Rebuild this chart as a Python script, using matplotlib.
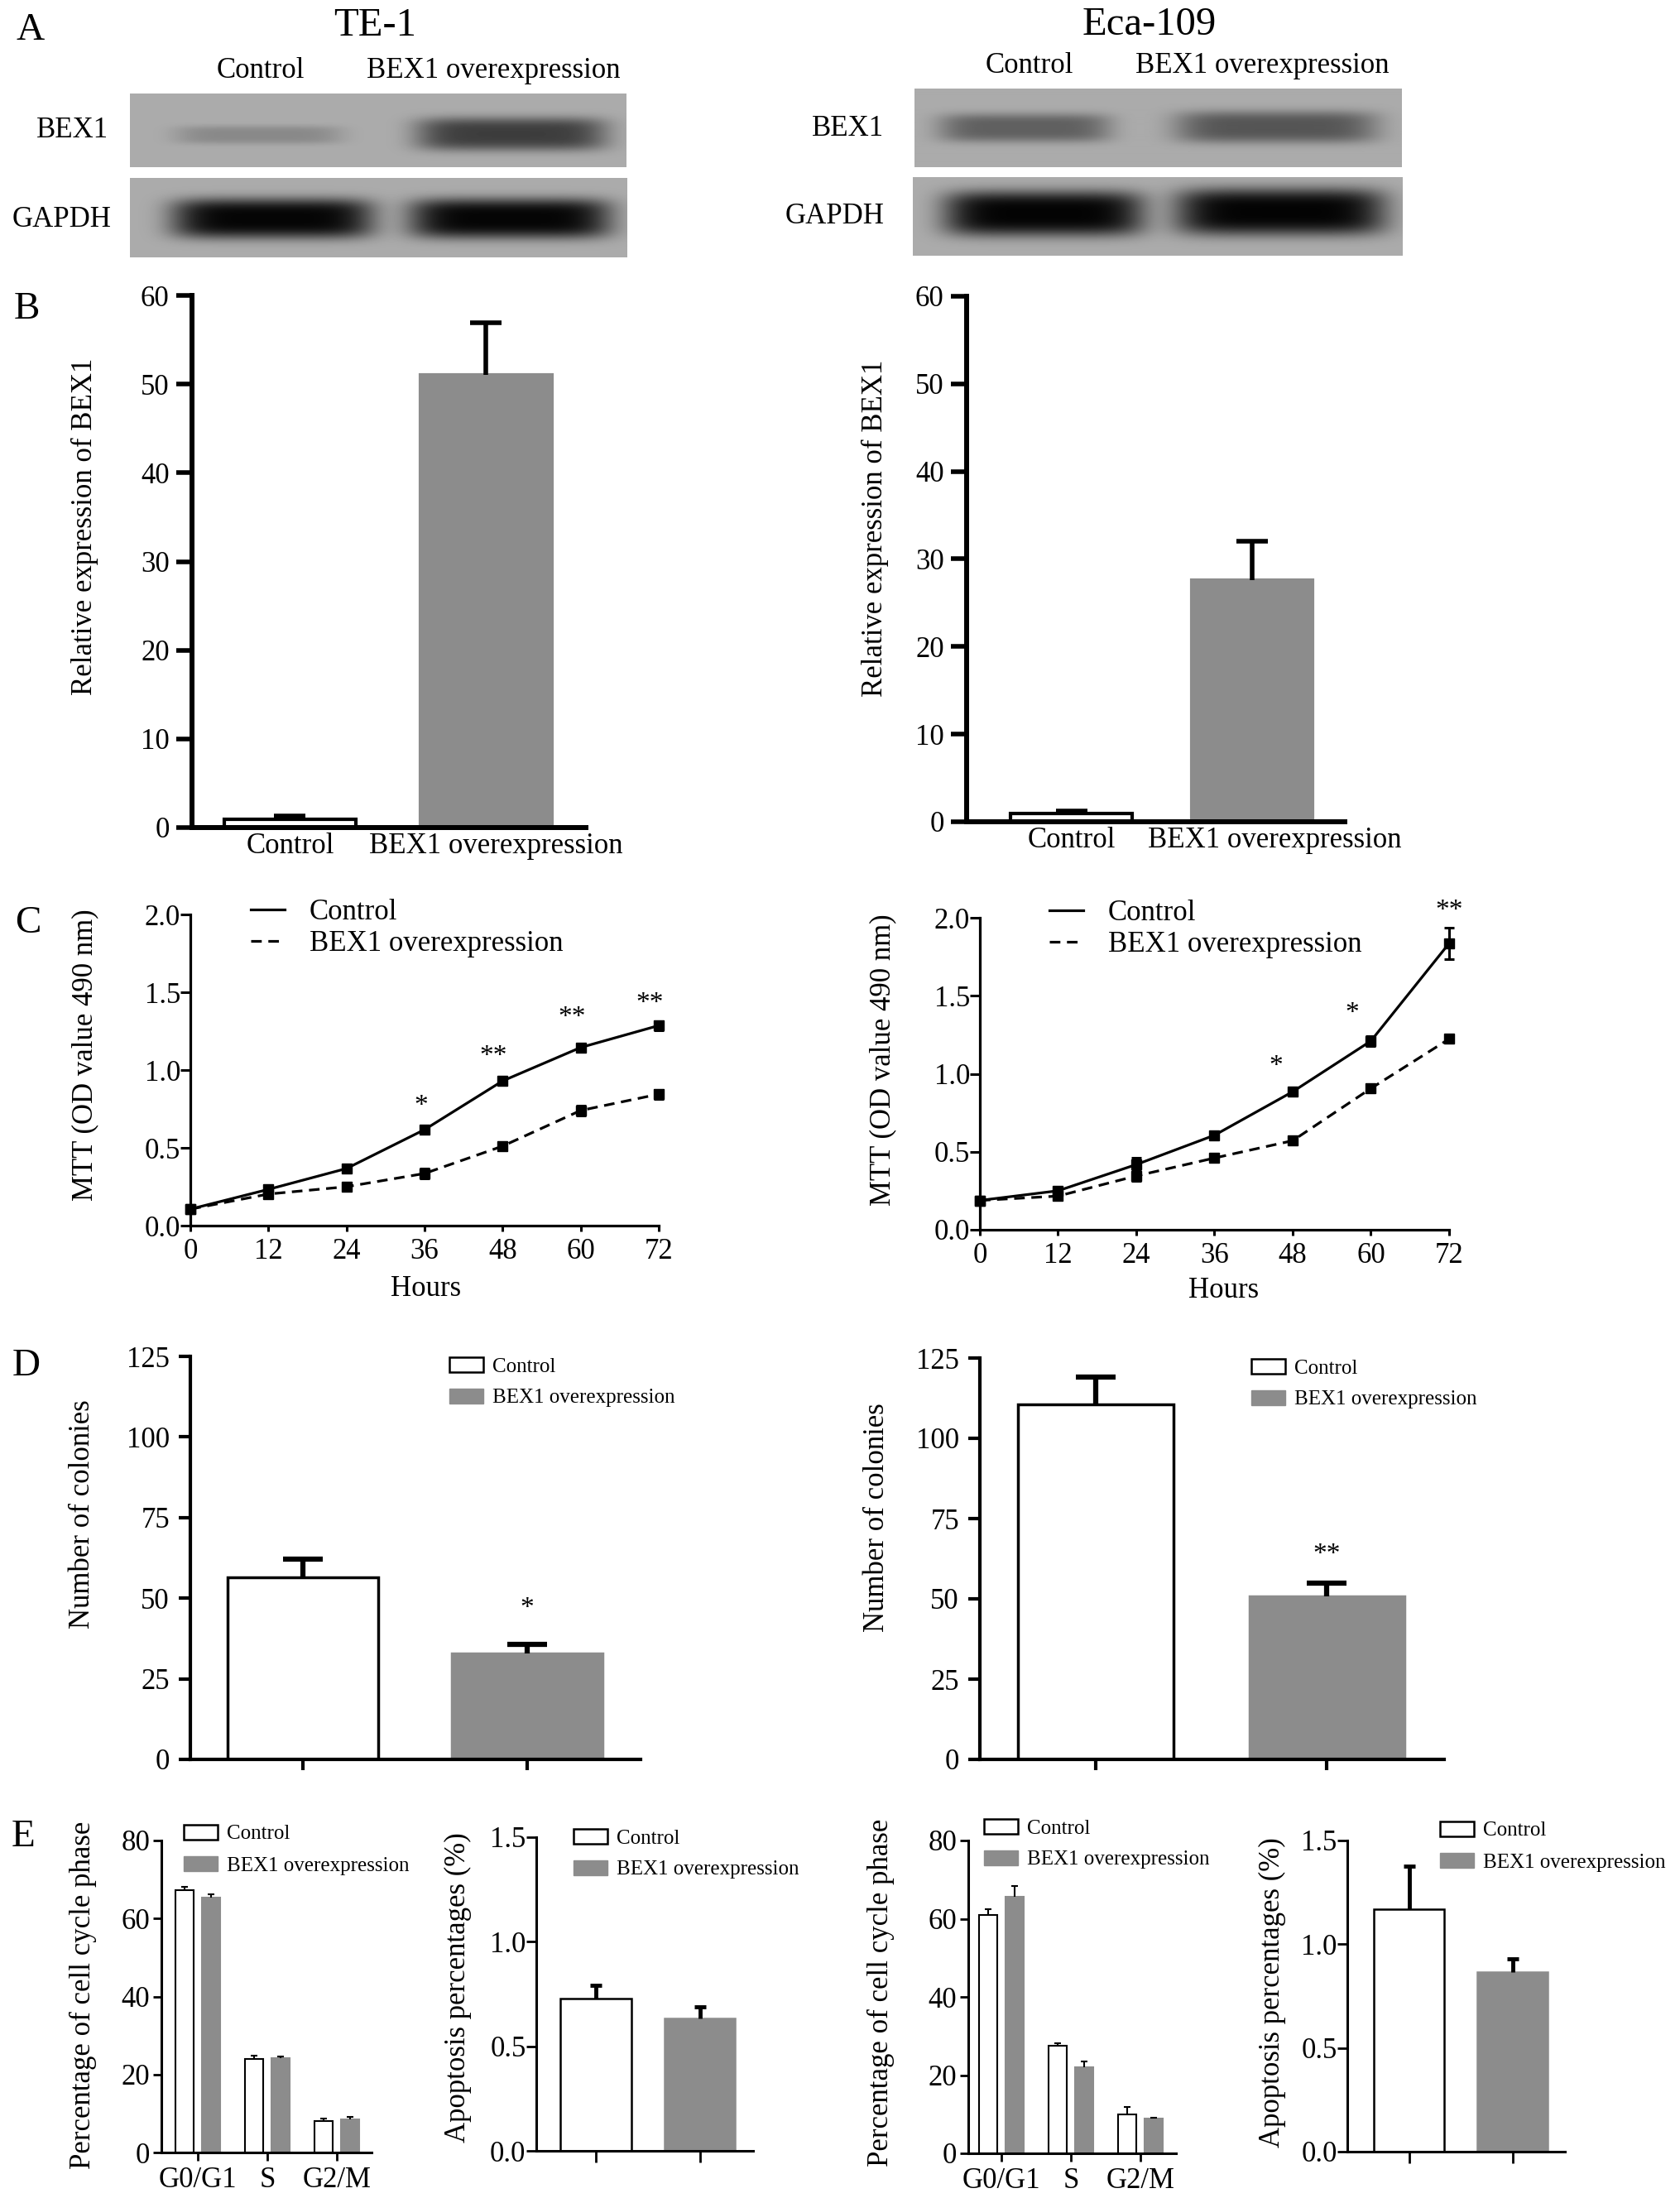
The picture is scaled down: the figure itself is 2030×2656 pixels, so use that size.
import numpy as np
import matplotlib.pyplot as plt
import matplotlib.transforms as mtransforms
from matplotlib.patches import Patch
from matplotlib.lines import Line2D

W, H = 2031, 2656
plt.rcParams['font.family'] = ['Liberation Serif', 'DejaVu Serif']
GRAY = '#8c8c8c'

# ---------------- data ----------------
groups2 = ['Control', 'BEX1 overexpression']

# A: western blot band darkness (0 = none, 1 = black)
te1_bex1_band = [0.2, 0.64]
te1_gapdh_band = [0.97, 0.97]
eca_bex1_band = [0.44, 0.5]
eca_gapdh_band = [0.98, 0.98]

# B: relative expression of BEX1
te1_rel = [0.95, 51.0]
te1_rel_err = [0.35, 5.9]
eca_rel = [0.95, 27.6]
eca_rel_err = [0.3, 4.4]

# C: MTT
hours = [0, 12, 24, 36, 48, 60, 72]
te1_mtt_ctrl = [0.106, 0.233, 0.367, 0.617, 0.93, 1.145, 1.286]
te1_mtt_ctrl_err = [0.02, 0.02, 0.015, 0.015, 0.025, 0.02, 0.03]
te1_mtt_bex = [0.106, 0.203, 0.25, 0.335, 0.511, 0.74, 0.845]
te1_mtt_bex_err = [0.02, 0.02, 0.012, 0.03, 0.015, 0.03, 0.03]
te1_star_x = [35.5, 46.6, 58.6, 70.6]
te1_star_y = [0.81, 1.13, 1.38, 1.47]
te1_star_s = ['*', '**', '**', '**']

eca_mtt_ctrl = [0.188, 0.25, 0.418, 0.606, 0.885, 1.21, 1.836]
eca_mtt_ctrl_err = [0.015, 0.02, 0.045, 0.012, 0.025, 0.03, 0.1]
eca_mtt_bex = [0.188, 0.216, 0.345, 0.46, 0.571, 0.906, 1.223]
eca_mtt_bex_err = [0.015, 0.02, 0.03, 0.012, 0.025, 0.015, 0.02]
eca_star_x = [45.4, 57.1, 72]
eca_star_y = [1.09, 1.43, 2.09]
eca_star_s = ['*', '*', '**']

# D: colonies
te1_col = [56.4, 32.8]
te1_col_err = [5.6, 3.0]
eca_col = [110.6, 50.7]
eca_col_err = [8.5, 4.2]
te1_col_star = (1, 49, '*')
eca_col_star = (1, 66, '**')

# E: cell cycle and apoptosis
phases = ['G0/G1', 'S', 'G2/M']
te1_cc_ctrl = [67.2, 23.9, 8.1]
te1_cc_ctrl_err = [1.0, 1.0, 0.7]
te1_cc_bex = [65.4, 24.2, 8.4]
te1_cc_bex_err = [0.9, 0.5, 0.7]
eca_cc_ctrl = [60.9, 27.5, 9.9]
eca_cc_ctrl_err = [1.5, 0.6, 1.9]
eca_cc_bex = [65.6, 22.0, 8.8]
eca_cc_bex_err = [2.8, 1.4, 0.25]
te1_apo = [0.73, 0.634]
te1_apo_err = [0.06, 0.056]
eca_apo = [1.167, 0.865]
eca_apo_err = [0.21, 0.066]

# ---------------- figure helpers ----------------
fig = plt.figure(figsize=(W / 100, H / 100), dpi=100)


def add_ax(l, t, r, b):
    return fig.add_axes([l / W, 1 - b / H, (r - l) / W, (b - t) / H])


def ftext(x, y, s, **kw):
    fig.text(x / W, 1 - y / H, s, **kw)


def blot_strip(rect, band_rects, dark):
    l, t, r, b = rect
    ax = add_ax(l, t, r, b)
    X, Y = np.meshgrid(np.arange(l, r) + 0.5, np.arange(t, b) + 0.5)
    img = np.ones_like(X)
    for (x0, x1, yc, hh), d in zip(band_rects, dark):
        cx, hw = (x0 + x1) / 2, (x1 - x0) / 2
        prof = np.exp(-np.abs((X - cx) / hw) ** 6 - np.abs((Y - yc) / hh) ** 3.5)
        img *= 1 - d * prof
    ax.imshow(0.67 * img, cmap='gray', vmin=0, vmax=1, extent=(l, r, b, t),
              aspect='auto', interpolation='bilinear')
    ax.set_axis_off()


def style(ax, lw, ylen, ywid, ypad, fs=25):
    for s in ['top', 'right']:
        ax.spines[s].set_visible(False)
    for s in ['left', 'bottom']:
        ax.spines[s].set_linewidth(lw)
    ax.tick_params(axis='y', length=ylen, width=ywid, pad=ypad, labelsize=fs)
    ax.tick_params(axis='x', labelsize=fs)


def up_err(ax, x, vals, errs, cap, elw):
    eb = ax.errorbar(x, vals, yerr=[np.zeros(len(vals)), errs], fmt='none', ecolor='black',
                     elinewidth=elw, capsize=cap, capthick=elw, zorder=3)
    eb.lines[1][0].set_visible(False)


def bars2(ax, vals, errs, width, lw, cap, elw):
    x = np.arange(len(vals))
    ax.bar(x, vals, width, color=['white', GRAY], edgecolor=['black', GRAY],
           linewidth=lw, zorder=2)
    up_err(ax, x, vals, errs, cap, elw)


def star(ax, x, y, s, fs=24):
    ax.annotate(s, (x, y), xytext=(0, -0.5 * fs), textcoords='offset points',
                ha='center', va='baseline', fontsize=fs, annotation_clip=False)


def patch_legend(ax, x, y, fs=18):
    h = [Patch(facecolor='white', edgecolor='black', linewidth=1.8),
         Patch(facecolor=GRAY, edgecolor=GRAY)]
    ax.legend(h, groups2, loc='upper left', bbox_to_anchor=(x / W, 1 - y / H),
              bbox_transform=fig.transFigure, frameon=False, fontsize=fs,
              handlelength=1.64, handleheight=0.7, handletextpad=0.45,
              labelspacing=0.62, borderpad=0, borderaxespad=0)


# ---------------- panel letters / titles ----------------
for s, x, y in [('A', 37, 37), ('B', 32, 374), ('C', 34, 1116), ('D', 32, 1651), ('E', 28, 2220)]:
    ftext(x, y, s, fontsize=34, ha='center', va='center')
ftext(453, 31, 'TE-1', fontsize=35, ha='center', va='center')
ftext(1389, 30, 'Eca-109', fontsize=35, ha='center', va='center')

# ---------------- A: blots ----------------
ftext(315, 86, 'Control', fontsize=25, ha='center', va='center')
ftext(596, 86, 'BEX1 overexpression', fontsize=25, ha='center', va='center')
ftext(1244, 80, 'Control', fontsize=25, ha='center', va='center')
ftext(1525, 80, 'BEX1 overexpression', fontsize=25, ha='center', va='center')
ftext(131, 158, 'BEX1', fontsize=25, ha='right', va='center')
ftext(134, 265, 'GAPDH', fontsize=25, ha='right', va='center')
ftext(1068, 155, 'BEX1', fontsize=25, ha='right', va='center')
ftext(1068, 262, 'GAPDH', fontsize=25, ha='right', va='center')

blot_strip((157, 113, 757, 202), [(212, 413, 163, 11), (503, 733, 162, 20)], te1_bex1_band)
blot_strip((157, 215, 758, 311), [(208, 451, 264, 24), (495, 738, 264, 24)], te1_gapdh_band)
blot_strip((1105, 107, 1694, 202), [(1135, 1342, 155, 17), (1421, 1664, 154, 19)], eca_bex1_band)
blot_strip((1103, 214, 1695, 309), [(1141, 1382, 258, 27), (1421, 1674, 256, 28)], eca_gapdh_band)

# ---------------- B ----------------
for rect, vals, errs, xl, lab, shift in [
        ((232, 357, 708, 1000), te1_rel, te1_rel_err, (-0.5, 1.51), (102, 636), 12),
        ((1168, 358, 1625, 993), eca_rel, eca_rel_err, (-0.58, 1.514), (1057, 638), 27)]:
    ax = add_ax(*rect)
    bars2(ax, vals, errs, 0.67, 3.0, 14, 4)
    ax.set_xlim(*xl)
    ax.set_ylim(0, 60)
    ax.set_yticks(range(0, 61, 10))
    ax.set_xticks([0, 1], groups2)
    style(ax, 4.3, 13.7, 4, 6)
    ax.tick_params(axis='x', length=0, pad=4)
    lbl = ax.get_xticklabels()[1]
    lbl.set_transform(lbl.get_transform() + mtransforms.ScaledTranslation(shift / 100, 0, fig.dpi_scale_trans))
    ftext(lab[0], lab[1], 'Relative expression of BEX1', rotation=90, fontsize=25,
          ha='center', va='center')

# ---------------- C ----------------
for rect, c, ce, b, be, sx, sy, ss, lab, hrs, leg in [
        ((230, 1105, 796, 1481), te1_mtt_ctrl, te1_mtt_ctrl_err, te1_mtt_bex, te1_mtt_bex_err,
         te1_star_x, te1_star_y, te1_star_s, (103, 1275), (515, 1557), (303, 1086)),
        ((1184, 1109, 1751, 1486), eca_mtt_ctrl, eca_mtt_ctrl_err, eca_mtt_bex, eca_mtt_bex_err,
         eca_star_x, eca_star_y, eca_star_s, (1067, 1281), (1479, 1559), (1268, 1087))]:
    ax = add_ax(*rect)
    ax.errorbar(hours, c, yerr=ce, color='black', lw=2.3, marker='s', ms=8, capsize=4.5,
                elinewidth=2.2, capthick=2.2, clip_on=False, zorder=3)
    ax.errorbar(hours, b, yerr=be, color='black', lw=2.3, ls=(0, (4, 2.5)), marker='s', ms=8,
                capsize=4.5, elinewidth=2.2, capthick=2.2, clip_on=False, zorder=3)
    for x, y, s in zip(sx, sy, ss):
        star(ax, x, y, s)
    ax.set_xlim(0, 72)
    ax.set_ylim(0, 2.0)
    ax.set_xticks(hours)
    ax.set_yticks([0, 0.5, 1.0, 1.5, 2.0], ['0.0', '0.5', '1.0', '1.5', '2.0'])
    style(ax, 2.3, 8.6, 2.2, 0)
    ax.tick_params(axis='x', length=5, width=2.2, pad=6)
    h = [Line2D([], [], color='black', lw=2.3),
         Line2D([], [], color='black', lw=2.3, ls=(0, (4, 2.5)))]
    ax.legend(h, groups2, loc='upper left', bbox_to_anchor=(leg[0] / W, 1 - leg[1] / H),
              bbox_transform=fig.transFigure, frameon=False, fontsize=25,
              handlelength=1.18, handletextpad=0.86, labelspacing=0.15,
              borderpad=0, borderaxespad=0)
    ftext(lab[0], lab[1], 'MTT (OD value 490 nm)', rotation=90, fontsize=25,
          ha='center', va='center')
    ftext(hrs[0], hrs[1], 'Hours', fontsize=25, ha='center', va='center')

# ---------------- D ----------------
for rect, vals, errs, xl, st, lab, leg in [
        ((230, 1639, 774, 2126), te1_col, te1_col_err, (-0.502, 1.506), te1_col_star, (100, 1830), (543, 1640)),
        ((1184, 1641, 1745, 2126), eca_col, eca_col_err, (-0.50, 1.506), eca_col_star, (1060, 1834), (1512, 1642))]:
    ax = add_ax(*rect)
    bars2(ax, vals, errs, 0.672, 2.5, 17, 4.5)
    star(ax, *st)
    ax.set_xlim(*xl)
    ax.set_ylim(0, 125)
    ax.set_yticks(range(0, 126, 25))
    ax.set_xticks([0, 1], ['', ''])
    style(ax, 3, 10, 3, 8)
    ax.tick_params(axis='x', length=9.4, width=3)
    patch_legend(ax, *leg)
    ftext(lab[0], lab[1], 'Number of colonies', rotation=90, fontsize=25,
          ha='center', va='center')

# ---------------- E ----------------
for rect, c, ce, b, be, xl, lab, leg in [
        ((195, 2224, 449, 2601), te1_cc_ctrl, te1_cc_ctrl_err, te1_cc_bex, te1_cc_bex_err,
         (-0.524, 2.5), (100, 2411), (222, 2205)),
        ((1170, 2224, 1421, 2602), eca_cc_ctrl, eca_cc_ctrl_err, eca_cc_bex, eca_cc_bex_err,
         (-0.476, 2.506), (1064, 2408), (1189, 2198))]:
    ax = add_ax(*rect)
    x = np.arange(len(phases))
    ax.bar(x - 0.19, c, 0.26, color='white', edgecolor='black', linewidth=1.5, zorder=2)
    ax.bar(x + 0.19, b, 0.26, color=GRAY, edgecolor=GRAY, linewidth=1.5, zorder=2)
    up_err(ax, x - 0.19, c, ce, 3, 1.5)
    up_err(ax, x + 0.19, b, be, 3, 1.5)
    ax.set_xlim(*xl)
    ax.set_ylim(0, 80)
    ax.set_yticks(range(0, 81, 20))
    ax.set_xticks(x, phases)
    style(ax, 2.2, 7, 2, 3)
    ax.tick_params(axis='x', length=7, width=2, pad=5)
    patch_legend(ax, *leg)
    ftext(lab[0], lab[1], 'Percentage of cell cycle phase', rotation=90, fontsize=25,
          ha='center', va='center')

for rect, vals, errs, xl, lab, leg in [
        ((648, 2220, 910, 2599), te1_apo, te1_apo_err, (-0.574, 1.514), (553, 2402), (693, 2210)),
        ((1628, 2224, 1891, 2600), eca_apo, eca_apo_err, (-0.596, 1.508), (1537, 2408), (1740, 2201))]:
    ax = add_ax(*rect)
    bars2(ax, vals, errs, 0.68, 1.8, 5, 3.5)
    ax.set_xlim(*xl)
    ax.set_ylim(0, 1.5)
    ax.set_yticks([0, 0.5, 1.0, 1.5], ['0.0', '0.5', '1.0', '1.5'])
    ax.set_xticks([0, 1], ['', ''])
    style(ax, 2.2, 9, 2, 0)
    ax.tick_params(axis='x', length=10, width=2)
    patch_legend(ax, *leg)
    ftext(lab[0], lab[1], 'Apoptosis percentages (%)', rotation=90, fontsize=25,
          ha='center', va='center')

fig.savefig('out.png', dpi=100, facecolor='white')
